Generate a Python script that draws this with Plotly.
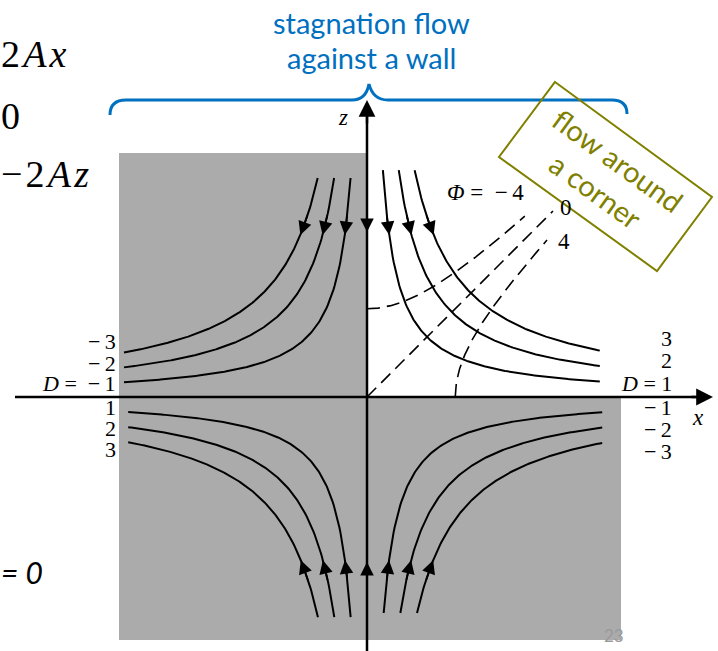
import numpy as np
import plotly.graph_objects as go

# ---- data ----
D_upper_right = [1, 2, 3]
D_upper_left = [-1, -2, -3]
D_lower_left = [1, 2, 3]
D_lower_right = [-1, -2, -3]
PHI_values = [-4, 0, 4]
PHI_scale = 1.85          # Phi = PHI_scale * (x^2 - z^2)
NB = "\u00a0"
D_labels_left_top = ["\u2212" + "\u2009" + "3", "\u2212" + "\u2009" + "2",
                     "<i>D</i>" + NB + "=" + NB + NB + "\u2212" + "\u2009" + "1"]
D_labels_left_bot = ["1", "2", "3"]
D_labels_right_top = ["3", "2", "<i>D</i>" + NB + "=" + NB + "1"]
D_labels_right_bot = ["\u2212" + "\u2009" + "1", "\u2212" + "\u2009" + "2",
                      "\u2212" + "\u2009" + "3"]

W, H = 718, 651
OX, OY, U = 367, 397, 60.0   # origin pixel and pixels per unit


def X(px):
    return (px - OX) / U


def Z(py):
    return (OY - py) / U


fig = go.Figure()

# shaded regions
shapes = [
    dict(type="rect", xref="x", yref="y", x0=X(119), x1=0, y0=0, y1=Z(153),
         fillcolor="#ABABAB", line=dict(width=0), layer="below"),
    dict(type="rect", xref="x", yref="y", x0=X(119), x1=X(621), y0=Z(640), y1=0,
         fillcolor="#ABABAB", line=dict(width=0), layer="below"),
]

# streamlines x*z = D
def add_stream(D, x0, x1):
    xs = np.linspace(x0, x1, 200)
    fig.add_trace(go.Scatter(x=xs, y=D / xs, mode="lines",
                             line=dict(color="black", width=2),
                             hoverinfo="skip", showlegend=False))

arrows = []
def arrow_on(D, z_tip, dz):
    xt = D / z_tip
    zb = z_tip + dz
    xb = D / zb
    arrows.append(dict(x=xt, y=z_tip, ax=xb, ay=zb, xref="x", yref="y",
                       axref="x", ayref="y", showarrow=True, arrowhead=2,
                       arrowsize=1.5, arrowwidth=1.8, arrowcolor="black",
                       text=""))

z_top_r, xend_r = 3.78, 3.88
for D in D_upper_right:
    add_stream(D, D / z_top_r, xend_r)
    arrow_on(D, 2.7, 0.35)
z_top_l, xend_l = 3.65, -4.05
for D in D_upper_left:
    add_stream(D, D / z_top_l, xend_l)
    arrow_on(D, 2.7, 0.35)
z_bot_l, xend_bl = -3.67, -3.98
for D in D_lower_left:
    add_stream(D, D / z_bot_l, xend_bl)
    arrow_on(D, -2.72, -0.35)
z_bot_r, xend_br = -3.6, 3.92
for D in D_lower_right:
    add_stream(D, D / z_bot_r, xend_br)
    arrow_on(D, -2.72, -0.35)

# potential lines (dashed)
phi_xmax = {-4: 2.63, 0: 3.1, 4: 3.0}
for P in PHI_values:
    c = P / PHI_scale
    if c < 0:
        xs = np.linspace(0, phi_xmax[P], 200)
        zs = np.sqrt(xs ** 2 - c)
    elif c == 0:
        xs = np.linspace(0, phi_xmax[P], 50)
        zs = xs
    else:
        xs = np.linspace(np.sqrt(c), phi_xmax[P], 400)
        zs = np.sqrt(xs ** 2 - c)
        xs = np.concatenate([[np.sqrt(c)], xs])
        zs = np.concatenate([[0.0], zs])
    fig.add_trace(go.Scatter(x=xs, y=zs, mode="lines",
                             line=dict(color="black", width=1.6, dash="13px,7px"),
                             hoverinfo="skip", showlegend=False))

# axes
fig.add_trace(go.Scatter(x=[X(15), X(700)], y=[0, 0], mode="lines",
                         line=dict(color="black", width=2.5),
                         hoverinfo="skip", showlegend=False))
fig.add_trace(go.Scatter(x=[0, 0], y=[Z(651), Z(112)], mode="lines",
                         line=dict(color="black", width=2.5),
                         hoverinfo="skip", showlegend=False))
arrows.append(dict(x=X(713), y=0, ax=X(690), ay=0, xref="x", yref="y", axref="x",
                   ayref="y", showarrow=True, arrowhead=2, arrowsize=1.4,
                   arrowwidth=2.4, arrowcolor="black", text=""))
arrows.append(dict(x=0, y=Z(100), ax=0, ay=Z(125), xref="x", yref="y", axref="x",
                   ayref="y", showarrow=True, arrowhead=2, arrowsize=1.4,
                   arrowwidth=2.4, arrowcolor="black", text=""))
arrows.append(dict(x=0, y=2.75, ax=0, ay=3.1, xref="x", yref="y", axref="x",
                   ayref="y", showarrow=True, arrowhead=2, arrowsize=1.5,
                   arrowwidth=1.8, arrowcolor="black", text=""))
arrows.append(dict(x=0, y=-2.75, ax=0, ay=-3.1, xref="x", yref="y", axref="x",
                   ayref="y", showarrow=True, arrowhead=2, arrowsize=1.5,
                   arrowwidth=1.8, arrowcolor="black", text=""))

# brace and box (decorations, pixel based)
def P(px, py):
    return f"{X(px):.4f},{Z(py):.4f}"

brace = (f"M {P(110,115)} Q {P(110,100)} {P(126,100)} L {P(352,100)} "
         f"Q {P(366,100)} {P(369,84)} Q {P(373,100)} {P(388,100)} "
         f"L {P(612,100)} Q {P(627,100)} {P(627,114)}")
shapes.append(dict(type="path", xref="x", yref="y", path=brace,
                   line=dict(color="#0070C0", width=3)))
box = f"M {P(555,82)} L {P(712,197)} L {P(657,271)} L {P(499,157)} Z"
shapes.append(dict(type="path", xref="x", yref="y", path=box,
                   line=dict(color="#808000", width=2)))

serif = "Liberation Serif"
sans = "Lato"
texts = []
def T(px, py, s, size, color="black", family=serif, xanchor="center",
      yanchor="middle", angle=0):
    texts.append(dict(x=px / W, y=1 - py / H, xref="paper", yref="paper",
                      text=s, showarrow=False, xanchor=xanchor, yanchor=yanchor,
                      textangle=angle, borderpad=0,
                      font=dict(size=size, color=color, family=family)))

HS = "\u200a"
# equation fragments on the left
T(0, 54, "2" + HS + "<i>A" + HS + "x</i>", 38, xanchor="left")
T(0, 116, "0", 38, xanchor="left")
T(0, 174, "\u2212" + HS + "2" + HS + "<i>A" + HS + "z</i>", 38, xanchor="left")
T(0, 572, "<i>= 0</i>", 30, family=sans, xanchor="left")

# blue title
T(371, 22, "stagnation flow", 29, color="#0070C0", family=sans)
T(371, 58, "against a wall", 29, color="#0070C0", family=sans)

# olive box text
T(607, 175, "flow around<br>a corner", 29, color="#808000", family=sans, angle=36)

# axis labels
T(343, 117, "<i>z</i>", 23)
T(698, 417, "<i>x</i>", 23)

# D labels
for s, y in zip(D_labels_left_top, [342, 363, 383]):
    T(117, y, s, 22, xanchor="right")
for s, y in zip(D_labels_left_bot, [407, 428, 449]):
    T(117, y, s, 22, xanchor="right")
for s, y in zip(D_labels_right_top, [338, 360, 383]):
    T(673, y, s, 22, xanchor="right")
for s, y in zip(D_labels_right_bot, [407, 429, 451]):
    T(673, y, s, 22, xanchor="right")

# Phi labels
phi_text = {-4: "<i>\u03a6</i>" + NB + "=" + NB + NB + "\u2212" + "\u2009" + "4",
            0: "0", 4: "4"}
phi_pos = {-4: (485, 193), 0: (566, 207), 4: (564, 241)}
for p in PHI_values:
    T(phi_pos[p][0], phi_pos[p][1], phi_text[p], 23)

# page number
T(614, 635, "23", 17, color="#999999", family=sans)

fig.update_layout(
    width=W, height=H, margin=dict(l=0, r=0, t=0, b=0),
    paper_bgcolor="white", plot_bgcolor="white",
    xaxis=dict(range=[X(0), X(W)], visible=False, fixedrange=True),
    yaxis=dict(range=[Z(H), Z(0)], visible=False, fixedrange=True),
    shapes=shapes, annotations=arrows + texts, showlegend=False,
)
fig.write_html("out.html", post_script="document.body.style.margin='0px';",
               config={"displayModeBar": False})
